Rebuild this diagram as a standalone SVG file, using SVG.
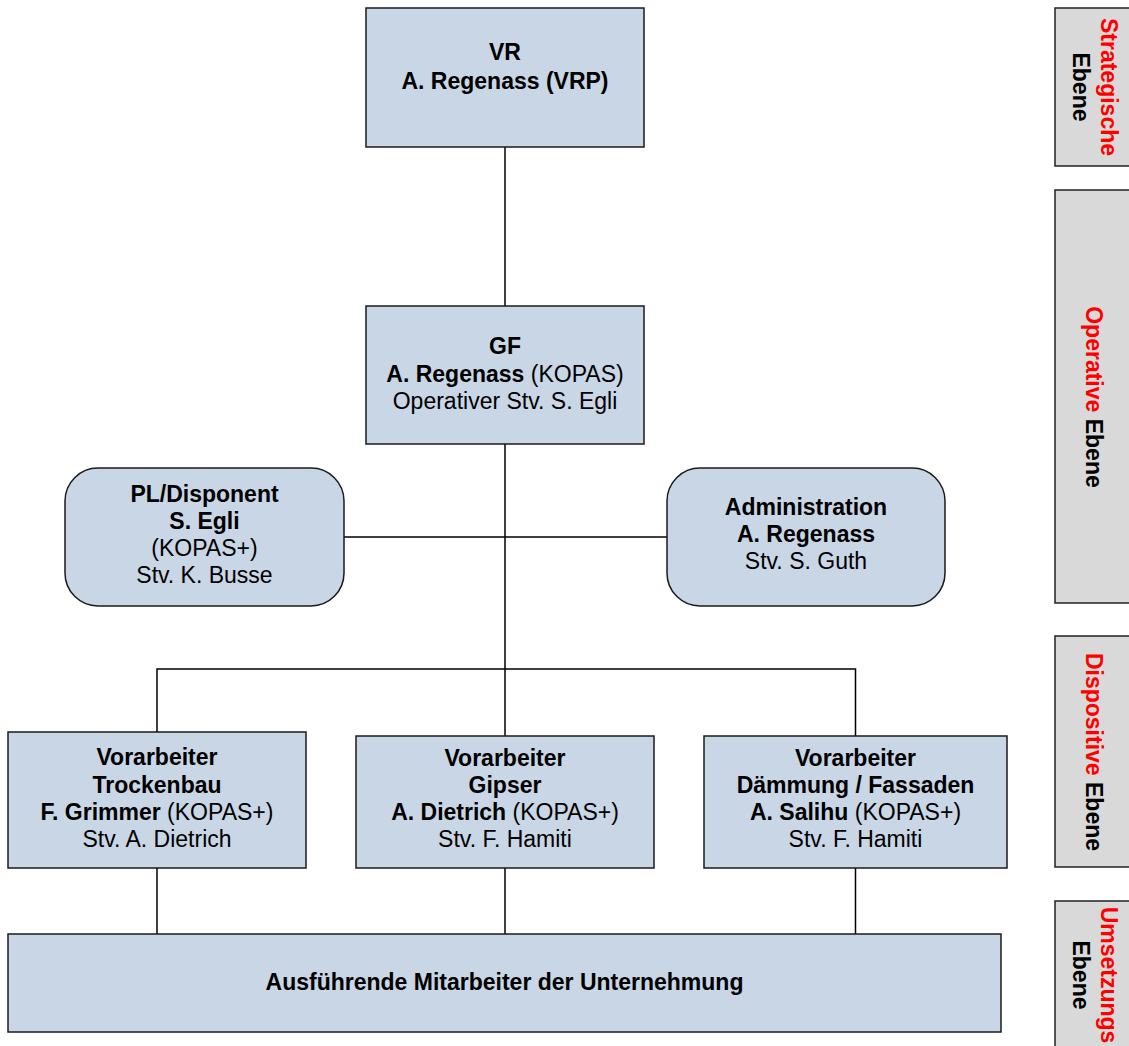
<svg xmlns="http://www.w3.org/2000/svg" width="1129" height="1046" viewBox="0 0 1129 1046">
<style>
.box{fill:#c9d6e5;stroke:#1a1a1a;stroke-width:1.5}
.side{fill:#d9d9d9;stroke:#222;stroke-width:1.5}
.conn{stroke:#000;stroke-width:1.5;fill:none}
text{font-family:"Liberation Sans",Arial,sans-serif;font-size:23px;fill:#000;text-anchor:middle}
.b{font-weight:bold}
.red{fill:#ff0000}
</style>
<rect width="1129" height="1046" fill="#fff"/>
<g id="connectors">
<line class="conn" x1="505" y1="147" x2="505" y2="306"/>
<line class="conn" x1="505" y1="444" x2="505" y2="736"/>
<line class="conn" x1="344" y1="537" x2="667" y2="537"/>
<polyline class="conn" points="157,732 157,669 855.5,669 855.5,736"/>
<line class="conn" x1="157" y1="868" x2="157" y2="934"/>
<line class="conn" x1="505" y1="868" x2="505" y2="934"/>
<line class="conn" x1="855.5" y1="868" x2="855.5" y2="934"/>
</g>
<g id="vr">
<rect class="box" x="366" y="8" width="278" height="139"/>
<text x="505" y="60" class="b">VR</text>
<text x="505" y="89" class="b">A. Regenass (VRP)</text>
</g>
<g id="gf">
<rect class="box" x="366" y="306" width="278" height="138"/>
<text x="505" y="354" class="b">GF</text>
<text x="505" y="382"><tspan class="b">A. Regenass</tspan> (KOPAS)</text>
<text x="505" y="409">Operativer Stv. S. Egli</text>
</g>
<g id="pl">
<rect class="box" x="65" y="468" width="279" height="138" rx="33"/>
<text x="204.5" y="502" class="b">PL/Disponent</text>
<text x="204.5" y="529" class="b">S. Egli</text>
<text x="204.5" y="556">(KOPAS+)</text>
<text x="204.5" y="583">Stv. K. Busse</text>
</g>
<g id="admin">
<rect class="box" x="667" y="468" width="278" height="138" rx="33"/>
<text x="806" y="515" class="b">Administration</text>
<text x="806" y="542" class="b">A. Regenass</text>
<text x="806" y="569">Stv. S. Guth</text>
</g>
<g id="trockenbau">
<rect class="box" x="8" y="732" width="298" height="136"/>
<text x="157" y="765" class="b">Vorarbeiter</text>
<text x="157" y="793" class="b">Trockenbau</text>
<text x="157" y="820"><tspan class="b">F. Grimmer</tspan> (KOPAS+)</text>
<text x="157" y="847">Stv. A. Dietrich</text>
</g>
<g id="gipser">
<rect class="box" x="356" y="736" width="298" height="132"/>
<text x="505" y="766" class="b">Vorarbeiter</text>
<text x="505" y="793" class="b">Gipser</text>
<text x="505" y="820"><tspan class="b">A. Dietrich</tspan> (KOPAS+)</text>
<text x="505" y="847">Stv. F. Hamiti</text>
</g>
<g id="daemmung">
<rect class="box" x="704" y="736" width="303" height="132"/>
<text x="855.5" y="766" class="b">Vorarbeiter</text>
<text x="855.5" y="793" class="b">Dämmung / Fassaden</text>
<text x="855.5" y="820"><tspan class="b">A. Salihu</tspan> (KOPAS+)</text>
<text x="855.5" y="847">Stv. F. Hamiti</text>
</g>
<g id="mitarbeiter">
<rect class="box" x="8" y="934" width="993" height="98"/>
<text x="504.5" y="990" class="b">Ausführende Mitarbeiter der Unternehmung</text>
</g>
<g id="strategische">
<rect class="side" x="1055" y="8" width="90" height="158"/>
<text transform="translate(1101,87) rotate(90)" class="b red">Strategische</text>
<text transform="translate(1073,87) rotate(90)" class="b">Ebene</text>
</g>
<g id="operative">
<rect class="side" x="1055" y="190" width="90" height="413"/>
<text transform="translate(1086,397) rotate(90)" class="b"><tspan class="red">Operative</tspan> Ebene</text>
</g>
<g id="dispositive">
<rect class="side" x="1055" y="636" width="90" height="231"/>
<text transform="translate(1086,752) rotate(90)" class="b"><tspan class="red">Dispositive</tspan> Ebene</text>
</g>
<g id="umsetzungs">
<rect class="side" x="1055" y="901" width="90" height="160"/>
<text transform="translate(1101,975) rotate(90)" class="b red">Umsetzungs</text>
<text transform="translate(1073,975) rotate(90)" class="b">Ebene</text>
</g>
</svg>
